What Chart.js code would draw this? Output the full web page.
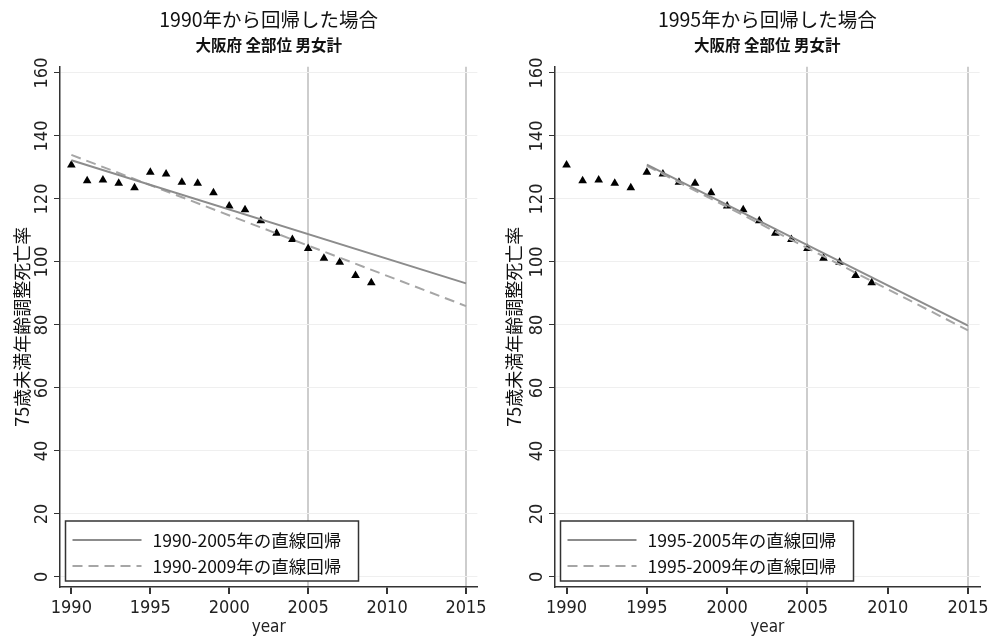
<!DOCTYPE html>
<html>
<head>
<meta charset="utf-8">
<script src="https://cdn.jsdelivr.net/npm/chart.js@4.4.1/dist/chart.umd.min.js"></script>
<style>
  html, body { margin: 0; padding: 0; background: #fff; overflow: hidden; }
  #wrap { position: relative; width: 993px; height: 636px; }
  .panel { position: absolute; top: 0; }
  #p1 { left: 0; }
  #p2 { left: 495px; }
</style>
</head>
<body>
<div id="wrap">
  <div class="panel" id="p1"><canvas id="c1" width="491" height="636"></canvas></div>
  <div class="panel" id="p2"><canvas id="c2" width="498" height="636"></canvas></div>
</div>
<script>
// Age-adjusted cancer mortality under 75, Osaka, all sites, both sexes
const years = [1990, 1991, 1992, 1993, 1994, 1995, 1996, 1997, 1998, 1999,
               2000, 2001, 2002, 2003, 2004, 2005, 2006, 2007, 2008, 2009];
const rates = [130.8, 125.8, 126.0, 125.0, 123.6, 128.5, 127.9, 125.3, 125.0, 122.0,
               117.8, 116.6, 113.1, 109.1, 107.1, 104.3, 101.2, 99.9, 95.7, 93.4];

// Fitted regression lines (end points)
const lineYears1990 = [1990, 2015];
const fit1990to2005 = [132.3, 93.2];
const fit1990to2009 = [134.0, 86.0];
const lineYears1995 = [1995, 2015];
const fit1995to2005 = [130.9, 79.8];
const fit1995to2009 = [130.5, 78.3];

// Text
const panelTitles = ['1990年から回帰した場合', '1995年から回帰した場合'];
const subtitleText = '大阪府 全部位 男女計';
const yTitle = '75歳未満年齢調整死亡率';
const xTitle = 'year';
const legend1990 = ['1990-2005年の直線回帰', '1990-2009年の直線回帰'];
const legend1995 = ['1995-2005年の直線回帰', '1995-2009年の直線回帰'];
const referenceYears = [2005, 2015];

const NUM_FONT = "'Liberation Sans Narrow', 'Arial Narrow', 'DejaVu Sans Condensed', 'Liberation Sans', sans-serif";
const JP_FONT = "'Liberation Sans Narrow', 'Arial Narrow', 'Noto Sans CJK JP', sans-serif";

const SOLID_COLOR = '#8c8c8c';
const DASH_COLOR = '#a6a6a6';

const toXY = (xs, ys) => xs.map((x, i) => ({ x: x, y: ys[i] }));

// Legend drawn as a framed box inside the lower-left of the plot area
const boxedLegend = {
  id: 'boxedLegend',
  afterDatasetsDraw(chart, args, opts) {
    const { ctx, chartArea } = chart;
    const items = chart.data.datasets.filter(d => d.legendText);
    const left = chartArea.left + opts.offsetX;
    const top = chartArea.bottom - opts.offsetBottom - opts.height;
    ctx.save();
    ctx.fillStyle = '#fff';
    ctx.fillRect(left, top, opts.width, opts.height);
    ctx.strokeStyle = '#333';
    ctx.lineWidth = 1.5;
    ctx.strokeRect(left, top, opts.width, opts.height);
    ctx.font = `${opts.fontSize}px ${JP_FONT}`;
    ctx.textBaseline = 'middle';
    ctx.textAlign = 'left';
    items.forEach((d, i) => {
      const y = top + opts.firstRow + i * opts.rowGap;
      ctx.beginPath();
      ctx.setLineDash(d.borderDash || []);
      ctx.strokeStyle = d.borderColor;
      ctx.lineWidth = 2;
      ctx.moveTo(left + opts.sampleStart, y);
      ctx.lineTo(left + opts.sampleEnd, y);
      ctx.stroke();
      ctx.setLineDash([]);
      ctx.fillStyle = '#111';
      ctx.fillText(d.legendText, left + opts.textStart, y);
    });
    ctx.restore();
  }
};

function makePanel(canvasId, title, lineYears, fitA, fitB, labels, yAxisWidth, padRight, yTitlePad) {
  return new Chart(document.getElementById(canvasId), {
    type: 'line',
    data: {
      datasets: [
        {
          label: labels[0], legendText: labels[0],
          data: toXY(lineYears, fitA),
          borderColor: SOLID_COLOR, borderWidth: 2, pointRadius: 0, order: 0
        },
        {
          label: labels[1], legendText: labels[1],
          data: toXY(lineYears, fitB),
          borderColor: DASH_COLOR, borderWidth: 2, borderDash: [10, 6], pointRadius: 0, order: 0
        },
        {
          label: 'rate',
          data: toXY(years, rates),
          showLine: false,
          pointStyle: 'triangle', pointRadius: 5, pointHoverRadius: 5,
          pointBackgroundColor: '#000', pointBorderColor: '#000', pointBorderWidth: 0,
          order: 1
        }
      ]
    },
    options: {
      responsive: false,
      animation: false,
      events: [],
      layout: { padding: { left: 0, right: padRight, top: 0, bottom: 0 } },
      scales: {
        x: {
          type: 'linear',
          min: 1989.28, max: 2015.72,
          afterFit: s => { s.height = 49; },
          ticks: {
            stepSize: 5, includeBounds: false, autoSkip: false,
            maxRotation: 0, minRotation: 0, padding: 4,
            color: '#222', font: { family: NUM_FONT, size: 18 },
            callback: v => String(v)
          },
          grid: {
            color: c => (c.tick && referenceYears.includes(c.tick.value)) ? '#cdcdcd' : 'rgba(0,0,0,0)',
            lineWidth: 2,
            tickColor: '#333', tickLength: 7, drawTicks: true
          },
          border: { display: true, color: '#333', width: 1.5 },
          title: {
            display: true, text: xTitle, color: '#222',
            font: { family: NUM_FONT, size: 17 }, padding: { top: 0, bottom: -2 }
          }
        },
        y: {
          type: 'linear',
          min: -3.2, max: 162,
          afterFit: s => { s.width = yAxisWidth; },
          ticks: {
            stepSize: 20, includeBounds: false,
            minRotation: 90, maxRotation: 90, crossAlign: 'center', padding: -4,
            color: '#222', font: { family: NUM_FONT, size: 18 },
            callback: v => String(v)
          },
          grid: { color: '#efefef', lineWidth: 1, tickColor: '#333', tickLength: 6 },
          border: { display: true, color: '#333', width: 1.5 },
          title: {
            display: true, text: yTitle, color: '#111',
            font: { family: JP_FONT, size: 18 }, padding: { top: yTitlePad, bottom: 0 }
          }
        }
      },
      plugins: {
        legend: { display: false },
        tooltip: { enabled: false },
        title: {
          display: true, text: title, fullSize: false, color: '#111',
          font: { family: JP_FONT, size: 19.5, weight: 'normal' },
          padding: { top: 8, bottom: 4 }
        },
        subtitle: {
          display: true, text: subtitleText, fullSize: false, color: '#111',
          font: { family: JP_FONT, size: 15.5, weight: 'bold' },
          padding: { top: 0, bottom: 12.7 }
        },
        boxedLegend: {
          offsetX: 5.5, offsetBottom: 6, width: 293, height: 60,
          firstRow: 19, rowGap: 26, sampleStart: 7, sampleEnd: 76, textStart: 87,
          fontSize: 17.5
        }
      }
    },
    plugins: [boxedLegend]
  });
}

makePanel('c1', panelTitles[0], lineYears1990, fit1990to2005, fit1990to2009, legend1990, 60, 0, 11);
makePanel('c2', panelTitles[1], lineYears1995, fit1995to2005, fit1995to2009, legend1995, 60, 7, 8);
</script>
</body>
</html>
